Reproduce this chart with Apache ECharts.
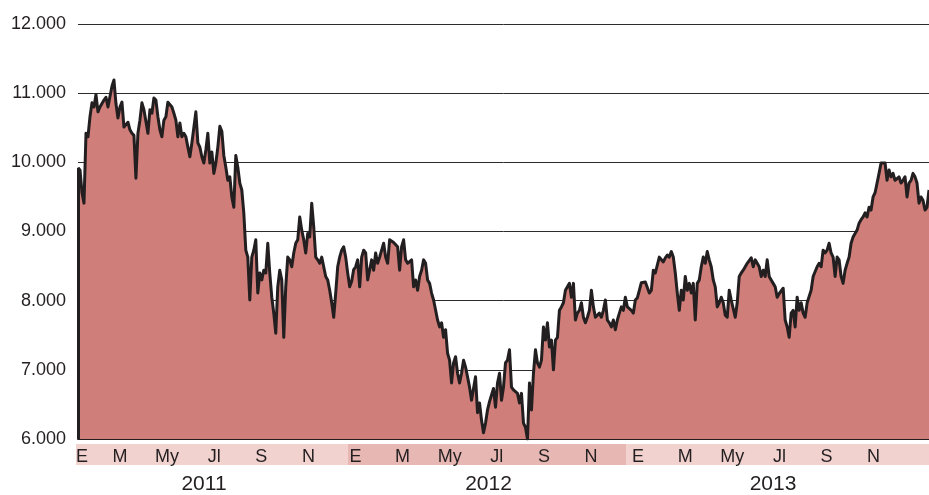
<!DOCTYPE html>
<html>
<head>
<meta charset="utf-8">
<script src="https://cdn.jsdelivr.net/npm/echarts@6/dist/echarts.min.js"></script>
<style>
html,body{margin:0;padding:0;background:#fff;}
#chart{width:929px;height:495px;}
</style>
</head>
<body>
<div id="chart"></div>
<script>
// Index level (thousands of points), roughly every 2 trading days, Jan 2011 - Dec 2013
const values = [
9.92,9.89,9.56,9.41,10.42,10.37,10.66,10.86,10.80,10.98,10.73,10.80,10.85,10.90,10.94,10.80,10.80,11.10,11.19,10.85,
10.64,10.80,10.87,10.51,10.51,10.58,10.47,10.42,10.39,9.77,10.42,10.61,10.86,10.76,10.76,10.42,10.76,10.71,10.93,10.90,
10.66,10.47,10.37,10.61,10.66,10.87,10.87,10.80,10.71,10.61,10.37,10.57,10.37,10.42,10.37,10.22,10.08,10.28,10.28,10.73,
10.28,10.22,10.08,9.99,10.18,10.42,9.99,10.15,9.84,9.99,10.22,10.52,10.45,10.10,9.93,9.74,9.79,9.50,9.35,10.10,
9.93,9.70,9.60,9.27,8.73,8.63,8.01,8.63,8.73,8.88,8.11,8.40,8.30,8.44,8.40,8.83,8.40,8.05,7.82,7.53,
8.20,8.44,8.30,7.47,8.20,8.63,8.59,8.49,8.69,8.83,8.88,9.21,9.02,8.88,8.69,8.97,8.92,9.41,9.07,8.63,
8.59,8.54,8.63,8.49,8.35,8.30,8.15,7.97,7.76,8.11,8.49,8.63,8.73,8.78,8.63,8.40,8.20,8.28,8.45,8.49,
8.59,8.20,8.63,8.73,8.69,8.30,8.30,8.59,8.44,8.69,8.54,8.63,8.73,8.83,8.63,8.54,8.88,8.86,8.84,8.82,
8.78,8.44,8.78,8.88,8.59,8.54,8.54,8.59,8.20,8.30,8.15,8.35,8.44,8.59,8.54,8.30,8.25,8.11,8.01,8.01,
7.72,7.62,7.68,7.47,7.58,7.24,7.14,6.81,7.10,7.19,6.95,6.81,6.95,7.14,7.04,6.90,6.75,6.56,6.56,6.90,
6.38,6.52,6.27,6.09,6.23,6.42,6.54,6.54,6.73,6.46,6.81,6.95,6.56,6.75,7.10,7.14,7.29,6.75,6.71,6.71,
6.66,6.52,6.66,6.23,6.17,6.00,6.81,6.42,6.95,7.29,7.10,7.04,7.14,7.62,7.43,7.68,7.33,7.43,7.00,7.43,
7.47,7.86,7.91,7.97,8.15,8.15,8.25,8.05,8.25,7.72,7.82,7.86,7.97,7.76,7.68,7.76,7.86,8.15,7.91,7.76,
7.76,7.82,7.76,7.86,8.01,7.72,7.68,7.62,7.72,7.58,7.72,7.82,7.91,7.86,8.05,7.91,7.91,7.86,7.82,8.01,
8.04,8.15,8.26,8.27,8.27,8.25,8.11,8.15,8.44,8.40,8.42,8.63,8.62,8.56,8.62,8.66,8.63,8.71,8.63,8.40,
8.11,7.86,8.15,8.01,8.35,8.15,8.25,8.11,8.25,7.72,8.25,8.30,8.49,8.63,8.54,8.71,8.59,8.49,8.30,8.20,
7.91,7.97,8.05,7.97,7.79,7.76,8.15,8.01,8.01,7.76,7.97,8.35,8.40,8.44,8.49,8.54,8.52,8.62,8.49,8.59,
8.54,8.49,8.35,8.44,8.35,8.59,8.35,8.30,8.25,8.20,8.05,8.10,8.08,8.18,7.72,7.62,7.47,7.82,7.86,7.62,
8.05,7.86,7.97,7.82,7.76,7.97,7.97,8.15,8.35,8.37,8.49,8.54,8.49,8.73,8.69,8.73,8.83,8.69,8.63,8.35,
8.63,8.59,8.35,8.25,8.44,8.54,8.63,8.83,8.92,8.97,9.02,9.12,9.17,9.21,9.27,9.21,9.35,9.31,9.50,9.56,
9.70,9.84,9.99,10.01,9.99,9.74,9.89,9.79,9.84,9.74,9.74,9.79,9.70,9.74,9.79,9.50,9.70,9.74,9.84,9.79,
9.70,9.41,9.50,9.45,9.31,9.35,9.60
];
const monthLabels = ['E','M','My','Jl','S','N','E','M','My','Jl','S','N','E','M','My','Jl','S','N'];
const yearLabels = ['2011','2012','2013'];
const yMin = 6, yMax = 12, yStep = 1;

const FONT = "'Liberation Sans', Arial, sans-serif";
const INK = '#231f20';
const LIGHT = '#f1d2cf';
const DARK = '#e7b8b3';

const chart = echarts.init(document.getElementById('chart'), null, {renderer:'canvas'});
const idx = values.map((v, i) => i);

const option = {
  animation: false,
  backgroundColor: '#ffffff',
  grid: [
    {left: 78, top: 24, width: 852, height: 415},
    {left: 49.35, top: 430, width: 847.8, height: 10},
    {left: 61.75, top: 430, width: 853.5, height: 10},
    {left: 76, top: 444, width: 272, height: 21, show: true, backgroundColor: LIGHT, borderWidth: 0},
    {left: 348, top: 444, width: 278, height: 21, show: true, backgroundColor: DARK, borderWidth: 0},
    {left: 626, top: 444, width: 310, height: 21, show: true, backgroundColor: LIGHT, borderWidth: 0}
  ],
  xAxis: [
    {
      gridIndex: 0, type: 'category', data: idx, boundaryGap: false,
      axisLine: {show: true, lineStyle: {color: INK, width: 2}},
      axisTick: {show: true, inside: true, length: 3, interval: 23, lineStyle: {color: INK, width: 1}},
      axisLabel: {show: false}, splitLine: {show: false}
    },
    {
      gridIndex: 1, type: 'category', data: monthLabels, boundaryGap: true,
      axisLine: {show: false}, axisTick: {show: false},
      axisLabel: {
        show: true, interval: 0, margin: 8, fontSize: 18, color: INK, fontFamily: FONT,
        formatter: (v, i) => i === 0 ? '{f|' + v + '}' : v,
        rich: {f: {fontSize: 18, color: INK, fontFamily: FONT, padding: [0, 0, 0, 18]}}
      }
    },
    {
      gridIndex: 2, type: 'category', data: yearLabels, boundaryGap: true,
      axisLine: {show: false}, axisTick: {show: false},
      axisLabel: {show: true, interval: 0, margin: 38, fontSize: 21, color: INK, fontFamily: FONT}
    },
    {gridIndex: 3, type: 'value', show: false},
    {gridIndex: 4, type: 'value', show: false},
    {gridIndex: 5, type: 'value', show: false}
  ],
  yAxis: [
    {
      gridIndex: 0, type: 'value', min: yMin, max: yMax, interval: yStep,
      axisLine: {show: false}, axisTick: {show: false},
      axisLabel: {margin: 12, fontSize: 18, color: INK, fontFamily: FONT, formatter: v => v.toFixed(3)},
      splitLine: {show: true, lineStyle: {color: '#2b2b2b', width: 1}}
    },
    {gridIndex: 1, type: 'value', show: false},
    {gridIndex: 2, type: 'value', show: false},
    {gridIndex: 3, type: 'value', show: false},
    {gridIndex: 4, type: 'value', show: false},
    {gridIndex: 5, type: 'value', show: false}
  ],
  series: [
    {
      type: 'line', xAxisIndex: 0, yAxisIndex: 0, data: values,
      showSymbol: false, symbol: 'none', smooth: false,
      lineStyle: {color: INK, width: 3, join: 'round'},
      areaStyle: {color: '#cf7e7a', opacity: 1, origin: 'start'},
      markLine: {
        silent: true, symbol: 'none', animation: false,
        label: {show: false},
        lineStyle: {color: INK, width: 3, type: 'solid'},
        data: [[{coord: [0, yMin]}, {coord: [0, values[0]]}]]
      }
    }
  ]
};
chart.setOption(option);
</script>
</body>
</html>
